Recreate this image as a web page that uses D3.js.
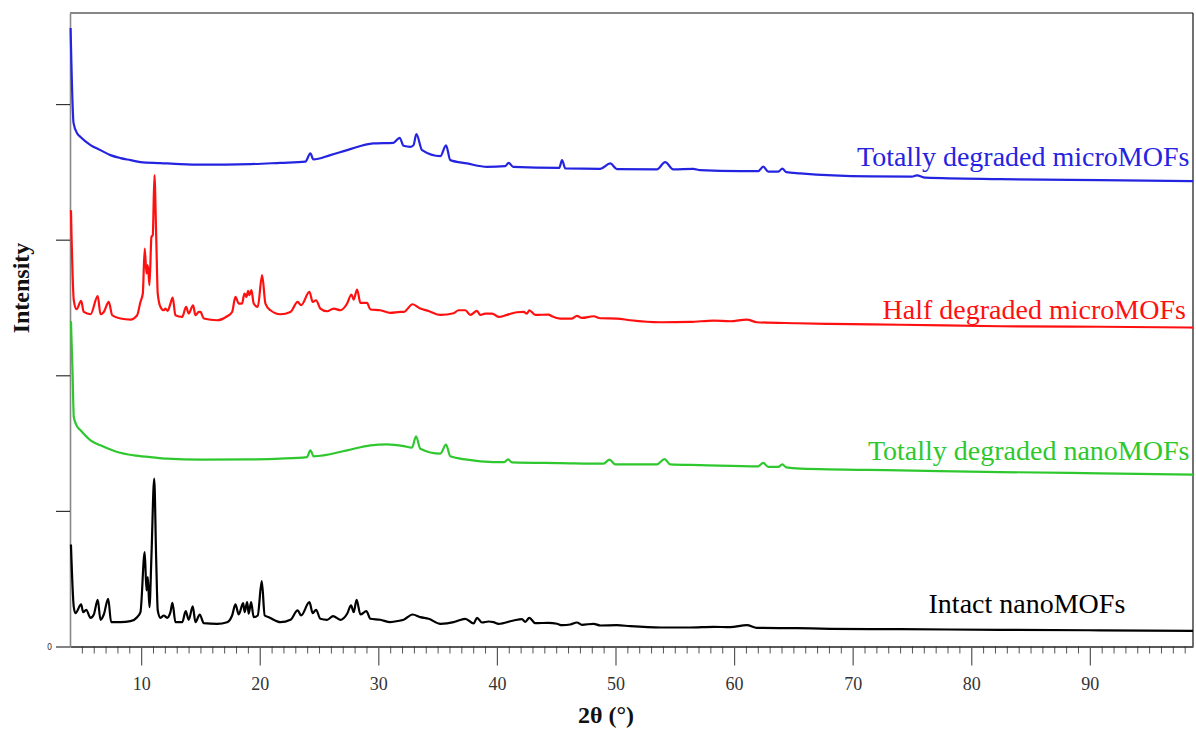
<!DOCTYPE html>
<html>
<head>
<meta charset="utf-8">
<script src="https://cdn.jsdelivr.net/npm/d3@7"></script>
<style>
  html, body { margin: 0; padding: 0; background: #fff; }
  svg { display: block; }
</style>
</head>
<body>
<svg id="chart" width="1196" height="729"></svg>
<script>
// ---- data: [2θ (°), intensity (counts, stacked as plotted)] ----
const microTotal = [
  [4.05,6180],[4.30,5230],[4.61,5127],[4.89,5090],[5.73,5010],[6.57,4960],[7.41,4910],[8.26,4880],
  [9.10,4860],[9.94,4840],[11.63,4830],[13.31,4820],[15.0,4815],[19.21,4820],[21.74,4833],[23.85,4845],
  [24.27,4927],[24.52,4867],[25.95,4910],[27.37,4960],[29.58,5027],[31.27,5033],[31.80,5083],[32.13,5003],
  [32.72,4993],[32.97,5010],[33.21,5120],[33.69,4960],[35.23,4900],[35.71,5007],[36.07,4860],[37.48,4827],
  [39.17,4793],[40.71,4800],[40.99,4833],[41.38,4793],[45.26,4783],[45.49,4860],[45.77,4777],[48.72,4773],
  [49.56,4827],[50.12,4770],[53.49,4767],[54.19,4840],[54.87,4767],[56.55,4773],[57.14,4760],[60.52,4750],
  [62.04,4750],[62.46,4795],[62.88,4745],[63.73,4745],[64.07,4775],[64.40,4740],[65.58,4727],[71.48,4697],
  [75.0,4695],[75.41,4708],[76.11,4685],[82.43,4670],[90.86,4660],[98.70,4650]
];
const microHalf = [
  [4.08,4360],[4.32,3460],[4.55,3370],[4.94,3453],[5.16,3343],[5.73,3320],[6.34,3500],[6.57,3320],
  [6.85,3343],[7.27,3443],[7.56,3310],[8.26,3277],[9.10,3267],[9.66,3310],[9.94,3443],[10.14,3527],
  [10.30,3977],[10.45,3727],[10.56,3810],[10.70,3610],[10.87,4093],[10.98,4110],[11.12,4710],[11.27,4093],
  [11.40,3527],[11.63,3393],[11.91,3360],[12.05,3377],[12.24,3353],[12.47,3427],[12.66,3487],[12.89,3310],
  [13.46,3293],[13.79,3393],[14.01,3327],[14.38,3410],[14.58,3310],[14.86,3343],[15.0,3343],[15.28,3277],
  [16.41,3260],[17.25,3300],[17.67,3343],[17.95,3493],[18.23,3427],[18.51,3427],[18.71,3527],[18.88,3493],
  [19.02,3553],[19.13,3510],[19.30,3560],[19.49,3427],[19.83,3393],[20.20,3710],[20.48,3427],[20.90,3360],
  [21.74,3320],[22.59,3343],[23.20,3443],[23.49,3410],[24.19,3543],[24.47,3443],[24.75,3460],[25.11,3377],
  [25.68,3350],[26.24,3377],[26.80,3360],[27.37,3427],[27.73,3517],[27.92,3467],[28.21,3567],[28.49,3433],
  [29.05,3433],[29.33,3367],[30.17,3360],[31.01,3333],[31.86,3343],[32.14,3343],[32.89,3420],[33.54,3377],
  [34.24,3353],[35.23,3313],[36.35,3330],[36.77,3360],[37.34,3360],[37.76,3313],[38.32,3353],[38.60,3313],
  [39.02,3327],[39.59,3327],[40.14,3293],[40.85,3313],[41.69,3340],[42.25,3343],[42.54,3327],[42.73,3360],
  [43.24,3313],[44.36,3317],[44.64,3300],[45.34,3277],[46.33,3277],[46.75,3303],[47.17,3283],[48.15,3300],
  [48.72,3280],[50.12,3277],[51.24,3260],[53.77,3240],[56.30,3243],[58.26,3257],[59.67,3250],[61.08,3267],
  [61.92,3240],[65.29,3230],[68.10,3223],[74.00,3215],[82.43,3200],[90.86,3195],[98.70,3187]
];
const nanoTotal = [
  [4.08,3250],[4.21,2760],[4.32,2293],[4.55,2210],[4.89,2160],[5.73,2060],[6.57,2010],[7.98,1943],
  [9.38,1910],[10.79,1893],[12.19,1877],[15.0,1867],[19.21,1870],[21.74,1877],[23.99,1893],[24.27,1960],
  [24.55,1900],[27.37,1960],[29.33,2010],[30.74,2020],[32.14,2003],[32.84,1987],[33.18,2100],[33.54,1977],
  [35.23,1927],[35.71,2017],[36.07,1900],[37.48,1867],[39.72,1843],[40.62,1842],[40.94,1870],[41.27,1840],
  [45.34,1833],[48.99,1827],[49.50,1867],[49.98,1820],[53.49,1820],[54.13,1873],[54.61,1820],[57.14,1813],
  [62.04,1800],[62.46,1835],[62.88,1795],[63.73,1795],[64.07,1820],[64.40,1790],[65.58,1777],[74.0,1760],
  [82.43,1743],[90.86,1730],[98.70,1717]
];
const nanoIntact = [
  [4.08,1020],[4.32,393],[4.46,333],[4.94,420],[5.11,343],[5.37,367],[5.73,287],[6.01,320],
  [6.34,467],[6.57,267],[6.85,320],[7.22,477],[7.47,243],[8.26,243],[9.10,253],[9.66,293],
  [9.94,343],[10.30,943],[10.45,560],[10.56,693],[10.70,393],[10.87,910],[11.10,1677],[11.27,860],
  [11.40,360],[11.63,287],[11.91,310],[12.19,287],[12.47,343],[12.64,437],[12.89,243],[13.46,243],
  [13.76,353],[14.01,267],[14.35,400],[14.58,243],[14.94,320],[15.28,233],[16.41,227],[17.25,243],
  [17.67,310],[17.95,420],[18.23,320],[18.60,433],[18.73,343],[18.94,443],[19.07,327],[19.27,443],
  [19.49,293],[19.83,310],[20.17,653],[20.42,310],[20.76,293],[21.74,243],[22.59,267],[23.20,360],
  [23.49,310],[24.19,443],[24.47,333],[24.75,367],[25.11,277],[25.68,267],[26.18,303],[26.80,267],
  [27.37,327],[27.70,410],[27.92,343],[28.17,467],[28.49,320],[28.99,353],[29.33,277],[30.17,267],
  [31.01,243],[31.86,260],[32.14,267],[32.89,320],[33.54,293],[34.24,277],[35.23,227],[36.35,243],
  [36.77,260],[37.34,277],[38.04,230],[38.32,287],[38.74,240],[39.30,250],[39.72,243],[40.14,227],
  [41.41,260],[42.11,273],[42.39,247],[42.73,287],[43.24,233],[44.36,237],[45.07,227],[45.49,213],
  [46.19,220],[46.75,240],[47.17,217],[48.15,227],[48.72,210],[50.12,213],[51.24,203],[53.77,190],
  [56.30,190],[58.26,197],[59.67,193],[61.08,213],[61.92,187],[65.29,183],[68.10,177],[74.0,173],
  [82.43,167],[90.86,162],[98.70,157]
];
const seriesNames  = ["Totally degraded microMOFs","Half degraded microMOFs","Totally degraded nanoMOFs","Intact nanoMOFs"];
const seriesColors = ["#2424e0","#ff1010","#2ec82e","#000000"];
const seriesData   = [microTotal, microHalf, nanoTotal, nanoIntact];
// label anchor: [2θ, intensity] of text baseline end/start
const labelAnchors = [[98.4,4800],[98.1,3277],[98.4,1860],[76.4,338]];
const labelAnchorMode = ["end","end","end","start"];
const xMajorTicks = [10,20,30,40,50,60,70,80,90];
const xMinorTicks = d3.range(5, 99, 1).filter(v => v % 10 !== 0);
const yTicks = [0,1355,2710,4065,5420];
const xDomain = [4, 98.7];
const yDomain = [0, 6330];

// ---- layout ----
const svg = d3.select("#chart");
const L = 70, R = 1193, T = 13, B = 646.5;
const x = d3.scaleLinear().domain(xDomain).range([L, R]);
const y = d3.scaleLinear().domain(yDomain).range([B, T]);
const serif = "'Liberation Serif','Times New Roman',Times,serif";

// frame top/right
svg.append("line").attr("x1",L).attr("x2",R).attr("y1",T).attr("y2",T).attr("stroke","#111").attr("stroke-width",1.2);
svg.append("line").attr("x1",R).attr("x2",R).attr("y1",T).attr("y2",B).attr("stroke","#111").attr("stroke-width",1.2);

// x axis minor
const gxMinor = svg.append("g").attr("transform",`translate(0,${B})`)
  .call(d3.axisBottom(x).tickValues(xMinorTicks).tickSize(7).tickFormat(""));
gxMinor.select(".domain").remove();
gxMinor.selectAll(".tick line").attr("stroke","#555").attr("stroke-width",1);

// x axis major
const gx = svg.append("g").attr("transform",`translate(0,${B})`)
  .call(d3.axisBottom(x).tickValues(xMajorTicks).tickSize(19).tickPadding(12).tickSizeOuter(0));
gx.attr("font-family",serif);
gx.select(".domain").attr("stroke","#222").attr("stroke-width",1.3);
gx.selectAll(".tick line").attr("stroke","#555").attr("stroke-width",1.2);
gx.selectAll(".tick text").style("font-family",serif).attr("font-size",18).attr("fill","#333");

// y axis
const gy = svg.append("g").attr("transform",`translate(${L},0)`)
  .call(d3.axisLeft(y).tickValues(yTicks).tickSize(14).tickPadding(4).tickSizeOuter(0)
    .tickFormat(d => d === 0 ? "0" : ""));
gy.select(".domain").attr("stroke","#888").attr("stroke-width",1.6);
gy.selectAll(".tick line").attr("stroke","#333").attr("stroke-width",1.2);
gy.selectAll(".tick text").attr("font-family","'DejaVu Sans',sans-serif").attr("font-size",8).attr("fill","#333");

// axis titles
svg.append("text").attr("x",606).attr("y",723).attr("text-anchor","middle")
  .style("font-family",serif).attr("font-weight","bold").attr("font-size",24).attr("fill","#111")
  .text("2θ (°)");
svg.append("text").attr("transform","translate(28.5,288) rotate(-90)").attr("text-anchor","middle")
  .style("font-family",serif).attr("font-weight","bold").attr("font-size",24).attr("fill","#111")
  .text("Intensity");

// lines
const line = d3.line().x(d => x(d[0])).y(d => y(d[1])).curve(d3.curveMonotoneX);
svg.append("g").selectAll("path").data(seriesData).join("path")
  .attr("d", line).attr("fill","none")
  .attr("stroke",(d,i) => seriesColors[i]).attr("stroke-width",2.2)
  .attr("stroke-linejoin","round");

// series labels
svg.append("g").selectAll("text").data(seriesNames).join("text")
  .attr("x",(d,i) => x(labelAnchors[i][0])).attr("y",(d,i) => y(labelAnchors[i][1]))
  .attr("text-anchor",(d,i) => labelAnchorMode[i])
  .style("font-family",serif).attr("font-size",28).attr("fill",(d,i) => seriesColors[i])
  .text(d => d);
</script>
</body>
</html>
